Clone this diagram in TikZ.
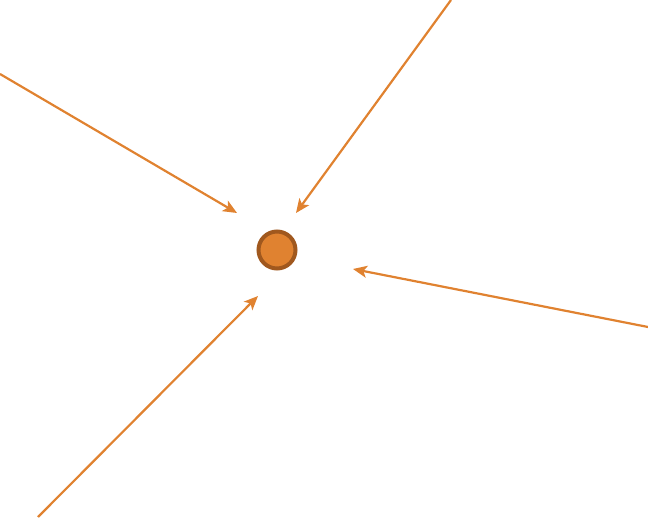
\documentclass[tikz,border=0pt]{standalone}
\usepackage{tikz}
\usetikzlibrary{arrows.meta}
\usepackage{xcolor}
\definecolor{flow}{RGB}{224,130,48}
\definecolor{rim}{RGB}{160,88,30}

\tikzset{
  inflow/.style={-{Stealth[length=14pt,width=12pt,inset=3.5pt]}, flow, line width=2.2pt},
  sinkdot/.style={circle, draw=rim, fill=flow, line width=4pt, minimum size=37pt, inner sep=0pt}
}

\begin{document}
\begin{tikzpicture}[x=1pt, y=-1pt]
            \useasboundingbox (0,0) rectangle (648,518);

            % Sink
            \node[sinkdot] (sink) at (277,250) {};

            % Sources
            \coordinate (srcW) at (0,74);
            \coordinate (srcN) at (451,0);
            \coordinate (srcE) at (648,327);
            \coordinate (srcS) at (38,517);

            % Tips
            \coordinate (tipW) at (237,213);
            \coordinate (tipN) at (296,213);
            \coordinate (tipE) at (353,269);
            \coordinate (tipS) at (258,296);

            % Flows
            \draw[inflow] (srcW) -- (tipW);
            \draw[inflow] (srcN) -- (tipN);
            \draw[inflow] (srcE) -- (tipE);
            \draw[inflow] (srcS) -- (tipS);
        \end{tikzpicture}
\end{document}
